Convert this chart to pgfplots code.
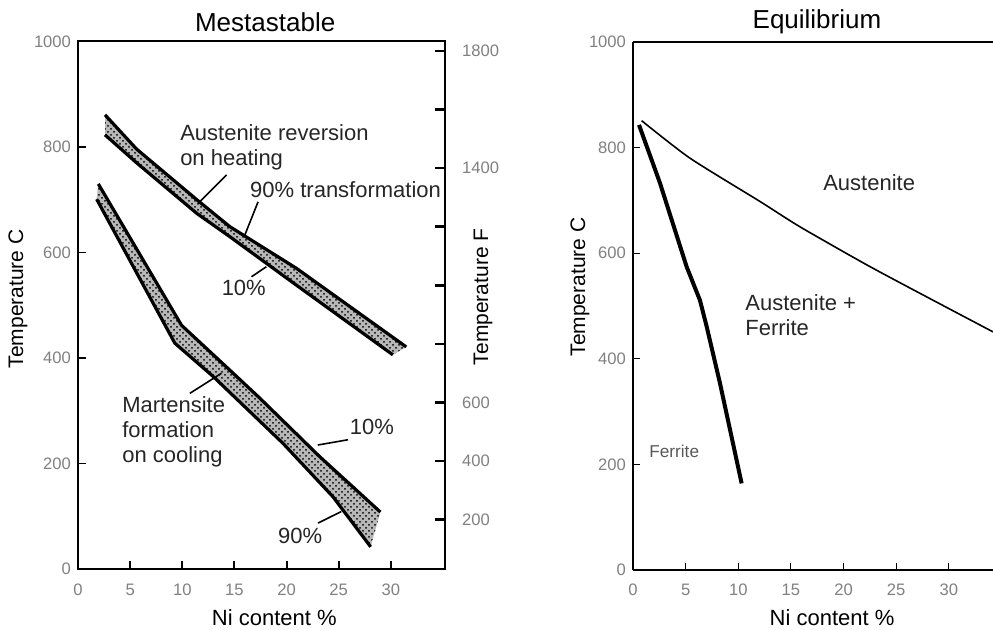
\documentclass[border=0pt]{standalone}
\usepackage{fontspec}
\setmainfont{Liberation Sans}
\usepackage{pgfplots}
\pgfplotsset{compat=1.18}
\usepgfplotslibrary{fillbetween}
\usetikzlibrary{patterns}
\definecolor{ticklab}{gray}{0.5}
\definecolor{annot}{gray}{0.15}
\begin{document}
\begin{tikzpicture}
% ---------------- Left panel (Celsius) ----------------
\begin{axis}[
  at={(39pt,30.5pt)}, anchor=south west,
  scale only axis, width=183.5pt, height=263.75pt,
  xmin=0, xmax=35.2, ymin=0, ymax=1000,
  axis line style={line width=1pt},
  xtick={0,5,...,30}, ytick={0,200,...,1000},
  tick align=inside, xtick pos=bottom, ytick pos=left,
  xtick style={black, line width=1pt}, ytick style={black, line width=0.8pt},
  major tick length=4pt,
  tick label style={font=\fontsize{8.3}{10}\selectfont, text=ticklab},
  /pgf/number format/assume math mode=true,
  /pgf/number format/1000 sep={},
  xticklabel style={yshift=-4pt},
  xlabel={Ni content \%},
  xlabel style={at={(axis description cs:0.535,-0.093)}, anchor=center, font=\fontsize{11}{13}\selectfont},
  ylabel={Temperature C},
  ylabel style={at={(axis description cs:-0.1635,0.512)}, anchor=center, font=\fontsize{10.5}{12}\selectfont},
  title={Mestastable},
  title style={at={(axis description cs:0.51,1.0143)}, anchor=center, font=\fontsize{13}{15}\selectfont},
  clip=false,
]
% Austenite reversion band
\addplot[name path=AU, line width=1.6pt, black] coordinates {
  (2.59,861) (5.62,796) (11.4,700) (14.56,649) (20.95,570) (31.48,421)};
\addplot[name path=AL, line width=1.6pt, black] coordinates {
  (2.59,823) (5.62,770) (11.4,674) (14.56,630) (20.95,538) (30.2,406)};
\addplot[fill=black!28, draw=none] fill between[of=AU and AL];
\addplot[pattern=crosshatch dots, pattern color=black, draw=none] fill between[of=AU and AL];
% Martensite band
\addplot[name path=MU, line width=1.6pt, black] coordinates {
  (1.95,730) (9.93,462) (14.56,377) (17.43,324) (23.18,213) (29.0,108)};
\addplot[name path=ML, line width=1.6pt, black] coordinates {
  (1.79,701) (9.29,428) (12.96,365) (19.67,238) (24.45,137) (28.07,42)};
\addplot[fill=black!28, draw=none] fill between[of=MU and ML];
\addplot[pattern=crosshatch dots, pattern color=black, draw=none] fill between[of=MU and ML];
% leader lines
\addplot[line width=0.8pt, black] coordinates {(14.24,747) (11.52,693)};
\addplot[line width=0.8pt, black] coordinates {(17.27,696) (16.0,633)};
\addplot[line width=0.8pt, black] coordinates {(18.07,573) (16.64,554)};
\addplot[line width=0.8pt, black] coordinates {(10.73,333) (13.76,371)};
\addplot[line width=0.8pt, black] coordinates {(25.9,245) (23.0,235)};
\addplot[line width=0.8pt, black] coordinates {(23.02,87) (25.26,109)};
% labels
\node[anchor=west, align=left, inner sep=0pt, text=annot, font=\fontsize{11}{12.5}\selectfont]
  at (axis cs:9.77,799) {Austenite reversion\\on heating};
\node[anchor=west, inner sep=0pt, text=annot, font=\fontsize{11}{12.5}\selectfont]
  at (axis cs:16.48,720) {90\% transformation};
\node[anchor=center, inner sep=0pt, text=annot, font=\fontsize{11}{12.5}\selectfont]
  at (axis cs:15.9,533) {10\%};
\node[anchor=west, align=left, inner sep=0pt, text=annot, font=\fontsize{11}{12.5}\selectfont]
  at (axis cs:4.21,260) {Martensite\\formation\\on cooling};
\node[anchor=center, inner sep=0pt, text=annot, font=\fontsize{11}{12.5}\selectfont]
  at (axis cs:28.2,269) {10\%};
\node[anchor=center, inner sep=0pt, text=annot, font=\fontsize{11}{12.5}\selectfont]
  at (axis cs:21.3,63) {90\%};
\end{axis}
% ---------------- Left panel, Fahrenheit scale ----------------
\begin{axis}[
  at={(39pt,30.5pt)}, anchor=south west,
  scale only axis, width=183.5pt, height=263.75pt,
  xmin=0, xmax=35.2, ymin=32, ymax=1832,
  axis x line=none, axis y line*=right,
  axis line style={line width=1pt, -},
  ytick={200,400,...,1800},
  yticklabels={200,400,600,{},{},{},1400,{},1800},
  tick align=inside, ytick style={black, line width=1.3pt},
  major tick length=5pt,
  tick label style={font=\fontsize{8.3}{10}\selectfont, text=ticklab},
  yticklabel style={xshift=5pt},
  ylabel={Temperature F},
  ylabel style={at={(axis description cs:1.1035,0.516)}, anchor=center, font=\fontsize{10.5}{12}\selectfont},
]
\addplot[draw=none] coordinates {(0,32) (35.2,1832)};
\end{axis}
% ---------------- Right panel ----------------
\begin{axis}[
  at={(316.5pt,30pt)}, anchor=south west,
  scale only axis, width=180pt, height=264pt,
  xmin=0, xmax=34.2, ymin=0, ymax=1000,
  axis x line*=box, axis y line*=left,
  axis line style={line width=0.7pt, -},
  xtick={0,5,...,30}, ytick={0,200,...,1000},
  tick align=inside, xtick pos=bottom, ytick pos=left,
  xtick style={black, line width=0.6pt}, ytick style={black, line width=0.4pt},
  major tick length=3.5pt,
  tick label style={font=\fontsize{8.3}{10}\selectfont, text=ticklab},
  /pgf/number format/assume math mode=true,
  /pgf/number format/1000 sep={},
  xticklabel style={yshift=-3.5pt},
  xlabel={Ni content \%},
  xlabel style={at={(axis description cs:0.553,-0.091)}, anchor=center, font=\fontsize{11}{13}\selectfont},
  ylabel={Temperature C},
  ylabel style={at={(axis description cs:-0.147,0.536)}, anchor=center, font=\fontsize{10.5}{12}\selectfont},
  title={Equilibrium},
  title style={at={(axis description cs:0.511,1.0153)}, anchor=center, font=\fontsize{13}{15}\selectfont},
  clip=false,
]
\addplot[line width=0.8pt, black, smooth, tension=0.4] coordinates {
  (0.82,851) (5.41,780) (12.06,698) (15.86,650) (22.2,578) (27.26,524) (34.2,451)};
\addplot[line width=2pt, black] coordinates {
  (0.57,843) (2.56,733) (5.1,574) (6.36,511) (7.0,461) (8.26,354) (10.32,164)};
\node[anchor=west, inner sep=0pt, text=annot, font=\fontsize{11}{12.5}\selectfont]
  at (axis cs:18.04,733) {Austenite};
\node[anchor=west, align=left, inner sep=0pt, text=annot, font=\fontsize{11}{12.5}\selectfont]
  at (axis cs:10.64,482) {Austenite +\\Ferrite};
\node[anchor=west, inner sep=0pt, text=black!65, font=\fontsize{8.6}{10}\selectfont]
  at (axis cs:1.52,225) {Ferrite};
\end{axis}
\pgfresetboundingbox
\useasboundingbox (0,0) rectangle (496.5pt,315pt);
\end{tikzpicture}
\end{document}
